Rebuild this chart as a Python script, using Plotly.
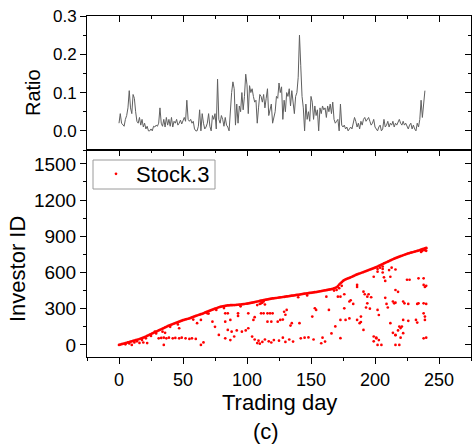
import plotly.graph_objects as go

# ---------------- data ----------------
days = list(range(240))
ratio = [
    0.02, 0.045, 0.02, 0.015, 0.012, 0.03, 0.04, 0.06, 0.105, 0.06,
    0.045, 0.095, 0.085, 0.05, 0.025, 0.02, 0.035, 0.015, 0.03, 0.01,
    0.02, 0.005, 0.012, 0.0, 0.0, 0.005, 0.0, 0.012, 0.01, 0.015,
    0.012, 0.02, 0.06, 0.02, 0.012, 0.03, 0.01, 0.035, 0.015, 0.03,
    0.012, 0.035, 0.01, 0.025, 0.02, 0.03, 0.015, 0.02, 0.028, 0.018,
    0.03, 0.035, 0.025, 0.08, 0.03, 0.025, 0.03, 0.02, 0.025, 0.005,
    0.0, 0.0, 0.012, 0.055, 0.0, 0.045, 0.02, 0.005, 0.01, 0.02,
    0.045, 0.012, 0.0, 0.04, 0.03, 0.045, 0.005, 0.135, 0.03, 0.02,
    0.04, 0.03, 0.012, 0.035, 0.015, 0.01, 0.0, 0.07, 0.1, 0.128,
    0.11, 0.015, 0.07, 0.02, 0.065, 0.05, 0.1, 0.055, 0.09, 0.148,
    0.12, 0.045, 0.118, 0.1, 0.11, 0.09, 0.075, 0.08, 0.02, 0.06,
    0.095, 0.09, 0.075, 0.095, 0.06, 0.085, 0.11, 0.04, 0.06, 0.07,
    0.02, 0.035, 0.05, 0.09, 0.085, 0.125, 0.1, 0.115, 0.03, 0.08,
    0.05, 0.1, 0.09, 0.11, 0.065, 0.105, 0.08, 0.045, 0.09, 0.1,
    0.14, 0.25, 0.17, 0.09, 0.06, 0.0, 0.07, 0.03, 0.05, 0.025,
    0.09, 0.075, 0.03, 0.065, 0.04, 0.055, 0.0, 0.06, 0.045, 0.065,
    0.055, 0.06, 0.035, 0.065, 0.05, 0.07, 0.045, 0.075, 0.03, 0.02,
    0.025, 0.03, 0.0, 0.07, 0.015, 0.01, 0.015, 0.005, 0.01, 0.0,
    0.005, 0.01, 0.005, 0.02, 0.035, 0.025, 0.01, 0.02, 0.005, 0.025,
    0.015, 0.03, 0.035, 0.025, 0.03, 0.035, 0.025, 0.015, 0.02, 0.03,
    0.01, 0.005, 0.0, 0.01, 0.015, 0.0, 0.005, 0.03, 0.01, 0.015,
    0.025, 0.01, 0.02, 0.015, 0.025, 0.01, 0.02, 0.015, 0.025, 0.03,
    0.02, 0.015, 0.025, 0.015, 0.02, 0.01, 0.005, 0.015, 0.02, 0.005,
    0.015, 0.005, 0.0, 0.02, 0.01, 0.03, 0.08, 0.035, 0.07, 0.105,
]

env_days = list(range(241))
env_ids = [
    0, 3, 6, 9, 12, 15, 18, 21, 24, 27,
    30, 33, 36, 39, 42, 45, 49, 53, 57, 61,
    65, 70, 75, 80, 85, 90, 95, 100, 105, 110,
    115, 120, 125, 130, 135, 140, 145, 150, 155, 160,
    165, 169, 173, 177, 181, 185, 189, 193, 197, 201,
    205, 208, 211, 214, 217, 220, 224, 228, 232, 236,
    240, 244, 248, 251, 255, 258, 262, 267, 271, 276,
    280, 284, 288, 292, 296, 300, 304, 308, 312, 315,
    318, 320, 322, 324, 326, 327, 328, 329, 329, 330,
    330, 331, 332, 333, 334, 335, 336, 338, 339, 341,
    342, 344, 346, 348, 350, 352, 355, 357, 360, 362,
    365, 367, 369, 371, 373, 375, 377, 379, 381, 383,
    385, 386, 388, 389, 391, 392, 394, 395, 397, 398,
    400, 402, 403, 405, 406, 408, 409, 411, 412, 414,
    415, 417, 419, 421, 423, 425, 426, 428, 429, 431,
    432, 434, 435, 437, 438, 440, 442, 444, 446, 448,
    450, 452, 454, 456, 458, 460, 462, 465, 468, 472,
    478, 488, 500, 510, 520, 530, 537, 543, 548, 552,
    555, 560, 565, 570, 575, 580, 584, 588, 592, 596,
    600, 604, 608, 612, 616, 620, 624, 628, 632, 636,
    640, 645, 650, 655, 660, 665, 670, 675, 680, 685,
    690, 695, 700, 705, 710, 715, 719, 723, 727, 731,
    735, 739, 743, 747, 751, 755, 758, 761, 764, 767,
    770, 773, 776, 779, 782, 785, 789, 793, 797, 801,
    805,
]

sc_days = [
    10, 16, 19, 22, 28, 31, 33, 35, 37, 39, 42, 44, 47, 49, 52, 55, 57, 60,
    34, 36, 47, 61, 64, 69, 73, 75, 66, 64, 78, 35,
    83, 85, 93, 101, 111, 113, 116, 118, 120, 129, 131,
    83, 87, 93, 85, 105, 106, 116, 119, 124, 126, 128, 130, 135, 134, 141, 151, 153, 154,
    88, 92, 96, 99, 101,
    83, 87, 90, 104, 106, 109, 112, 114, 117, 108, 110, 119, 121, 125, 128, 130, 133,
    136, 142, 145, 148, 152, 158, 161,
    162, 164, 171, 173, 176, 180, 181, 186, 191, 192, 194, 195, 197, 194, 199, 202,
    202, 203, 206, 206, 206, 207, 208, 211, 213, 216, 212, 208, 215, 216, 225, 227,
    222, 223, 234, 238, 238, 239, 234, 238, 222, 226, 238, 239, 219, 220, 221, 222,
    216, 199, 201, 203, 202, 205, 216, 219, 238, 173, 177, 180, 186, 189, 169, 173,
    191, 189, 159, 166,
    183, 186, 188, 176, 193, 196, 209, 210, 214, 216, 218, 226, 232, 233, 233, 239,
    240, 240, 240, 212, 214, 216, 218, 220, 199, 201,
    108, 110, 112, 113, 114, 111, 168, 170, 172, 174, 236, 237, 238, 239, 240, 240,
    202, 204, 5, 8, 12, 14, 18, 21, 25, 29, 40, 46, 58, 70, 76, 82, 95, 140, 147,
]
sc_ids = [
    0, 17, 20, 15, 110, 55, 58, 60, 55, 60, 55, 58, 55, 60, 55, 50, 55, 50,
    110, 100, 138, 180, 207, 262, 193, 150, 21, 0, 83, 0,
    262, 262, 262, 262, 262, 262, 262, 262, 262, 275, 290,
    193, 207, 240, 124, 207, 230, 193, 193, 193, 207, 210, 250, 180, 160, 180, 235, 304, 290,
    110, 120, 110, 120, 138,
    55, 40, 70, 69, 45, 35, 25, 45, 30, 15, 10, 20, 40, 35, 60, 25, 45,
    28, 55, 60, 62, 45, 14, 28,
    400, 290, 400, 400, 303, 360, 370, 497, 441, 420, 400, 420, 395, 345, 565, 607,
    290, 248, 600, 630, 650, 560, 530, 620, 640, 625, 565, 390, 345, 455, 540, 540,
    360, 345, 552, 552, 497, 480, 345, 345, 207, 200, 262, 207, 152, 140, 152, 97,
    83, 70, 55, 40, 0, 0, 0, 0, 55, 207, 207, 220, 207, 190, 153, 56,
    124, 235, 60, 95,
    340, 480, 180, 420, 310, 300, 340, 310, 360, 350, 440, 340, 207, 185, 340, 235,
    340, 490, 60, 180, 100, 80, 120, 60, 30, 60,
    330, 340, 350, 360, 335, 345, 450, 455, 470, 490, 770, 780, 790, 785, 800, 780,
    630, 640, 5, 12, 20, 30, 40, 55, 75, 95, 150, 170, 210, 260, 290, 305, 320, 395, 410,
]

x_ticks = [0, 50, 100, 150, 200, 250]
ratio_ticks = [0.0, 0.1, 0.2, 0.3]
id_ticks = [0, 300, 600, 900, 1200, 1500]

# ---------------- layout helpers ----------------
W, H = 473, 444
L, R, T, B = 87, 2, 16, 87
PW, PH = W - L - R, H - T - B


def pxx(x):
    return (x - L) / PW


def pxy(y):
    return (H - B - y) / PH


split = pxy(150)
XR = [-25, 275]
FONT = "Arial, Liberation Sans, sans-serif"

fig = go.Figure()
fig.add_trace(go.Scatter(x=days, y=ratio, xaxis="x2", yaxis="y2", mode="lines",
                         line=dict(color="#606060", width=1), showlegend=False))
fig.add_trace(go.Scatter(x=env_days + sc_days, y=env_ids + sc_ids, xaxis="x", yaxis="y",
                         mode="markers", marker=dict(color="#ff0000", size=2.7, line=dict(width=0)),
                         name="Stock.3"))
# dummy traces for mirror axes
for xa, ya in [("x3", "y"), ("x", "y3"), ("x4", "y2"), ("x2", "y4")]:
    fig.add_trace(go.Scatter(x=[], y=[], xaxis=xa, yaxis=ya, showlegend=False, hoverinfo="skip"))

base = dict(showline=True, linecolor="black", linewidth=1, showgrid=False, zeroline=False,
            tickcolor="black", tickwidth=1)

fig.update_layout(
    width=W, height=H, margin=dict(l=L, r=R, t=T, b=B),
    paper_bgcolor="white", plot_bgcolor="white",
    font=dict(family=FONT, color="black"),
    xaxis=dict(base, domain=[0, 1], anchor="y", range=XR, tickvals=x_ticks, ticks="outside",
               ticklen=6, tickfont=dict(size=18),
               minor=dict(tickmode="linear", tick0=0, dtick=25, ticks="outside", ticklen=3)),
    yaxis=dict(base, domain=[0, split], anchor="x", range=[-100, 1615], tickvals=id_ticks,
               ticks="outside", ticklen=6, tickfont=dict(size=19),
               minor=dict(tickmode="linear", tick0=0, dtick=150, ticks="outside", ticklen=3)),
    xaxis3=dict(base, overlaying="x", anchor="y", side="top", range=XR, tickvals=x_ticks,
                ticks="inside", ticklen=6, showticklabels=False,
                minor=dict(tickmode="linear", tick0=0, dtick=25, ticks="inside", ticklen=3)),
    yaxis3=dict(base, overlaying="y", anchor="x", side="right", range=[-100, 1615], tickvals=id_ticks,
                ticks="inside", ticklen=6, showticklabels=False,
                minor=dict(tickmode="linear", tick0=0, dtick=150, ticks="inside", ticklen=3)),
    xaxis2=dict(base, domain=[0, 1], anchor="y2", range=XR, ticks="", showticklabels=False),
    yaxis2=dict(base, domain=[split, 1], anchor="x2", range=[-0.05, 0.3], tickvals=ratio_ticks,
                tickformat=".1f", ticks="outside", ticklen=6, tickfont=dict(size=17),
                minor=dict(tickmode="linear", tick0=0, dtick=0.05, ticks="outside", ticklen=3)),
    xaxis4=dict(base, overlaying="x2", anchor="y2", side="top", range=XR, tickvals=x_ticks,
                ticks="inside", ticklen=6, showticklabels=False,
                minor=dict(tickmode="linear", tick0=0, dtick=25, ticks="inside", ticklen=3)),
    yaxis4=dict(base, overlaying="y2", anchor="x2", side="right", range=[-0.05, 0.3], tickvals=ratio_ticks,
                ticks="inside", ticklen=6, showticklabels=False,
                minor=dict(tickmode="linear", tick0=0, dtick=0.05, ticks="inside", ticklen=3)),
    legend=dict(x=pxx(96), y=pxy(153), xanchor="left", yanchor="top",
                borderwidth=0, bgcolor="rgba(0,0,0,0)",
                font=dict(size=22), itemsizing="trace", tracegroupgap=0),
    showlegend=True,
)

# legend frame
fig.add_shape(type="rect", xref="paper", yref="paper", x0=pxx(93), x1=pxx(215), y0=pxy(189), y1=pxy(160),
              line=dict(color="#9a9a9a", width=1), fillcolor="rgba(0,0,0,0)", layer="above")

annos = [
    dict(text="Ratio", x=pxx(33), y=pxy(93), textangle=-90, size=20),
    dict(text="Investor ID", x=pxx(17), y=pxy(269), textangle=-90, size=22),
    dict(text="Trading day", x=pxx(279), y=pxy(403), textangle=0, size=22),
    dict(text="(c)", x=pxx(266), y=pxy(431), textangle=0, size=22),
]
for a in annos:
    fig.add_annotation(text=a["text"], x=a["x"], y=a["y"], xref="paper", yref="paper",
                       textangle=a["textangle"], showarrow=False, xanchor="center", yanchor="middle",
                       font=dict(size=a["size"], family=FONT, color="black"))

fig.write_html("out.html", config={"displayModeBar": False},
               post_script="document.body.style.margin='0';document.body.style.padding='0';")
